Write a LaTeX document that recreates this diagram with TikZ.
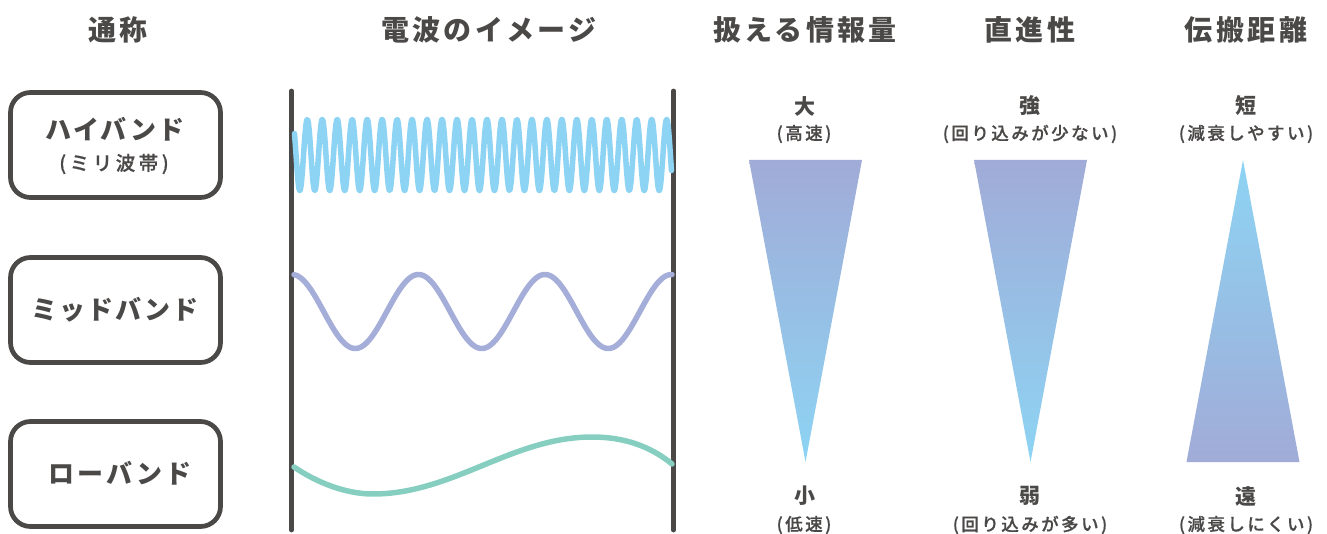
\documentclass[tikz,border=0pt]{standalone}
\usepackage{fontspec}
\newfontfamily\jph{Noto Sans CJK JP}[LetterSpace=12]
\newfontfamily\jpb{Noto Sans CJK JP}[LetterSpace=8]
\newfontfamily\jps{Noto Sans CJK JP Medium}[LetterSpace=14, FakeBold=0.6]
\newfontfamily\jpss{Noto Sans CJK JP Medium}[LetterSpace=18, FakeBold=0.6]
\definecolor{ink}{HTML}{4B4948}
\definecolor{hiblue}{HTML}{8DD3F3}
\definecolor{midpurple}{HTML}{A5ADD9}
\definecolor{lowteal}{HTML}{86CFC0}
\definecolor{gradtop}{HTML}{A1ABD7}
\definecolor{gradbot}{HTML}{8DD4F4}
\tikzset{
  header/.style={text=ink, inner sep=0pt, font=\jph\bfseries\fontsize{28}{28}\selectfont},
  bandbox/.style={draw=ink, line width=4.7pt, rounded corners=20pt, minimum width=210pt, minimum height=105pt, inner sep=0pt},
  bandlabel/.style={text=ink, inner sep=0pt, font=\jpb\bfseries\fontsize{26}{26}\selectfont},
  bandsub/.style={text=ink, inner sep=0pt, font=\jpss\fontsize{19.5}{19.5}\selectfont},
  biglabel/.style={text=ink, inner sep=0pt, font=\jpb\bfseries\fontsize{21}{21}\selectfont},
  sublabel/.style={text=ink, inner sep=0pt, font=\jps\fontsize{17.5}{17.5}\selectfont},
  frameline/.style={draw=ink, line width=4.7pt, line cap=round},
  wave/.style={line width=5.5pt, line cap=round, line join=round},
}
\begin{document}
\begin{tikzpicture}[x=1pt, y=-1pt]
\useasboundingbox (0,0) rectangle (1327,534);
% headers
\node[header] (h1) at (118,30) {通称};
\node[header] (h2) at (489,30) {電波のイメージ};
\node[header] (h3) at (805,30) {扱える情報量};
\node[header] (h4) at (1030,30) {直進性};
\node[header] (h5) at (1246,30) {伝搬距離};
% boxes
\node[bandbox] (b1) at (115.5,145) {};
\node[bandbox] (b2) at (115.5,310) {};
\node[bandbox] (b3) at (115.5,474) {};
\node[bandlabel] (l1) at (115,129) {ハイバンド};
\node[bandsub] (s1) at (114,164) {(ミリ波帯)};
\node[bandlabel] (l2) at (115,310) {ミッドバンド};
\node[bandlabel] (l3) at (120,473) {\addfontfeatures{LetterSpace=12}ローバンド};
% frame lines
\coordinate (lt) at (291.5,91);
\coordinate (lb) at (291.5,530);
\coordinate (rt) at (673.5,91);
\coordinate (rb) at (673.5,530);
\draw[frameline] (lt) -- (lb);
\draw[frameline] (rt) -- (rb);
% waves
\draw[wave, hiblue] plot[domain=294.5:671.5, samples=1200] (\x, {155 - 35.5*cos((\x-292.3)/14.975*360)});
\draw[wave, midpurple] plot[domain=294:672, samples=300] (\x, {311.5 - 37*cos((\x-292)/126.5*360)});
\draw[wave, lowteal] (294,467) .. controls (316,482) and (345,494) .. (373,494)
  .. controls (453,494) and (512,437) .. (592,437)
  .. controls (630,437) and (655,450) .. (672,464);
% triangles
\shade[top color=gradtop, bottom color=gradbot] (749,160) -- (862,160) -- (805.5,462) -- cycle;
\shade[top color=gradtop, bottom color=gradbot] (974,160) -- (1087,160) -- (1030.5,462) -- cycle;
\shade[top color=gradbot, bottom color=gradtop] (1243,160) -- (1299.5,462) -- (1186.5,462) -- cycle;
% labels
\node[biglabel] (t1) at (805,106) {大};
\node[sublabel] (u1) at (804,134) {(高速)};
\node[biglabel] (t2) at (805,496) {小};
\node[sublabel] (u2) at (804,525) {(低速)};
\node[biglabel] (t3) at (1030,106) {強};
\node[sublabel] (u3) at (1030,134) {(回り込みが少ない)};
\node[biglabel] (t4) at (1030,496) {弱};
\node[sublabel] (u4) at (1030,525) {(回り込みが多い)};
\node[biglabel] (t5) at (1246,106) {短};
\node[sublabel] (u5) at (1246,134) {(減衰しやすい)};
\node[biglabel] (t6) at (1246,496) {遠};
\node[sublabel] (u6) at (1246,525) {(減衰しにくい)};
\end{tikzpicture}
\end{document}
